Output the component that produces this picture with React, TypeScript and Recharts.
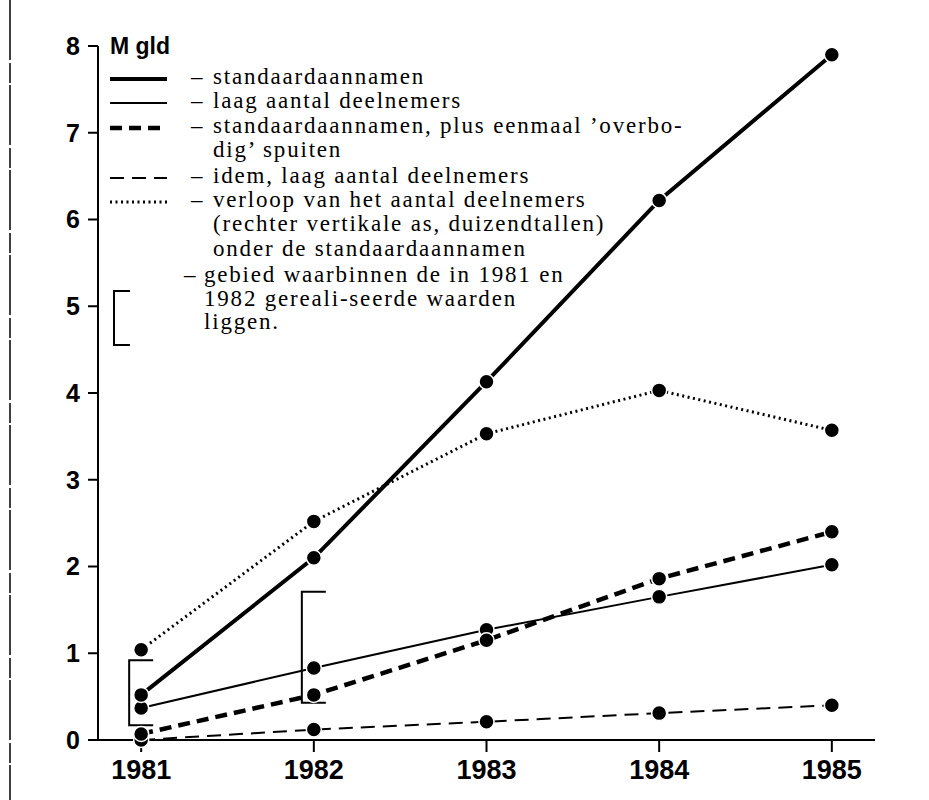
import React from 'react';
import { LineChart, Line, XAxis, YAxis, ReferenceLine, Customized } from 'recharts';

// ---- data ----
const years = [1981, 1982, 1983, 1984, 1985];
const standaard = [0.52, 2.1, 4.13, 6.22, 7.9];
const laagAantal = [0.37, 0.83, 1.27, 1.65, 2.02];
const standaardPlus = [0.07, 0.52, 1.15, 1.86, 2.4];
const idemLaag = [0.0, 0.12, 0.21, 0.31, 0.4];
const deelnemers = [1.04, 2.52, 3.53, 4.03, 3.57];

const bracketYears = [1981, 1982];
const bracketLow = [0.17, 0.43];
const bracketHigh = [0.92, 1.71];

const yTicks = [0, 1, 2, 3, 4, 5, 6, 7, 8];
const unitLabel = 'M gld';

const legendTexts = [
  ['standaardaannamen'],
  ['laag aantal deelnemers'],
  ['standaardaannamen, plus eenmaal \u2019overbo-', 'dig\u2019 spuiten'],
  ['idem, laag aantal deelnemers'],
  ['verloop van het aantal deelnemers', '(rechter vertikale as, duizendtallen)', 'onder de standaardaannamen'],
];
const bracketLegendText = ['gebied waarbinnen de in 1981 en', '1982 gereali-seerde waarden', 'liggen.'];

// ---- styles ----
const seriesKeys = ['deelnemers', 'idemLaag', 'laagAantal', 'standaardPlus', 'standaard'];
const seriesStyle: Record<string, { w: number; dash?: string }> = {
  standaard: { w: 4 },
  laagAantal: { w: 2 },
  standaardPlus: { w: 4.5, dash: '12 7' },
  idemLaag: { w: 2, dash: '14 8' },
  deelnemers: { w: 3, dash: '2 3.5' },
};
const legendOrder = ['standaard', 'laagAantal', 'standaardPlus', 'idemLaag', 'deelnemers'];

const data = years.map((year, i) => ({
  year,
  standaard: standaard[i],
  laagAantal: laagAantal[i],
  standaardPlus: standaardPlus[i],
  idemLaag: idemLaag[i],
  deelnemers: deelnemers[i],
}));

const brackets = bracketYears.map((year, i) => ({ year, low: bracketLow[i], high: bracketHigh[i] }));

const SANS = '"Liberation Sans", Arial, Helvetica, sans-serif';
const SERIF = '"Liberation Serif", "Times New Roman", serif';

const BracketShape = (props: any) => {
  const { x1, y1, y2 } = props;
  const top = Math.min(y1, y2);
  const bot = Math.max(y1, y2);
  const vx = x1 - 12;
  const ex = x1 + 12;
  return (
    <path
      d={`M${ex},${top} L${vx},${top} L${vx},${bot} L${ex},${bot}`}
      fill="none"
      stroke="#000"
      strokeWidth={2}
    />
  );
};

const rowCenters = [79, 103, 128, 178, 202];
const extraLineGap = 24.3;

const LegendLayer = () => {
  const textStyle = { fontFamily: SERIF, fontSize: 23, letterSpacing: 1.8 } as any;
  return (
    <g>
      {/* scan page border */}
      <line x1={10} y1={0} x2={10} y2={800} stroke="#000" strokeWidth={1.5} strokeDasharray="60 3 20 2" />
      <text x={110} y={54} fontFamily={SANS} fontWeight={700} fontSize={23} fill="#000">
        {unitLabel}
      </text>
      {legendOrder.map((k, i) => {
        const st = seriesStyle[k];
        const cy = rowCenters[i];
        return (
          <g key={k}>
            <line x1={110} y1={cy} x2={167} y2={cy} stroke="#000" strokeWidth={st.w} strokeDasharray={st.dash} />
            <text x={191} y={cy + 5} fill="#000" style={textStyle}>
              {'\u2013'}
            </text>
            {legendTexts[i].map((t, j) => (
              <text key={j} x={213} y={cy + 5 + j * extraLineGap} fill="#000" style={textStyle}>
                {t}
              </text>
            ))}
          </g>
        );
      })}
      <path d="M130,291 L114,291 L114,345 L130,345" fill="none" stroke="#000" strokeWidth={2} />
      <text x={184} y={282} fill="#000" style={textStyle}>
        {'\u2013'}
      </text>
      {bracketLegendText.map((t, j) => (
        <text key={j} x={204} y={282 + j * 23.5} fill="#000" style={textStyle}>
          {t}
        </text>
      ))}
    </g>
  );
};

export default function App() {
  return (
    <div style={{ position: 'absolute', left: 0, top: 0, width: 929, height: 800, background: '#fff' }}>
      <LineChart width={929} height={800} data={data} margin={{ top: 46, right: 54, left: 0, bottom: 0 }}>
        <XAxis
          dataKey="year"
          type="number"
          domain={[1980.75, 1985.25]}
          ticks={years}
          interval={0}
          height={60}
          tickSize={12}
          tickMargin={8}
          axisLine={{ stroke: '#000', strokeWidth: 2 }}
          tickLine={{ stroke: '#000', strokeWidth: 2 }}
          tick={{ fill: '#000', fontSize: 27, fontWeight: 700, fontFamily: SANS }}
        />
        <YAxis
          type="number"
          domain={[0, 8]}
          ticks={yTicks}
          interval={0}
          width={98}
          tickSize={10}
          tickMargin={8}
          axisLine={{ stroke: '#000', strokeWidth: 2 }}
          tickLine={{ stroke: '#000', strokeWidth: 2 }}
          tick={{ fill: '#000', fontSize: 25, fontWeight: 700, fontFamily: SANS }}
        />
        {brackets.map((b) => (
          <ReferenceLine
            key={b.year}
            segment={[
              { x: b.year, y: b.low },
              { x: b.year, y: b.high },
            ]}
            shape={BracketShape}
            stroke="#000"
          />
        ))}
        {seriesKeys.map((k) => (
          <Line
            key={k}
            dataKey={k}
            type="linear"
            stroke="#000"
            strokeWidth={seriesStyle[k].w}
            strokeDasharray={seriesStyle[k].dash}
            isAnimationActive={false}
            dot={{ r: 7.5, fill: '#000', stroke: '#fff', strokeWidth: 1.5, strokeDasharray: 'none' }}
            activeDot={false}
          />
        ))}
        <Customized component={LegendLayer} />
      </LineChart>
    </div>
  );
}
